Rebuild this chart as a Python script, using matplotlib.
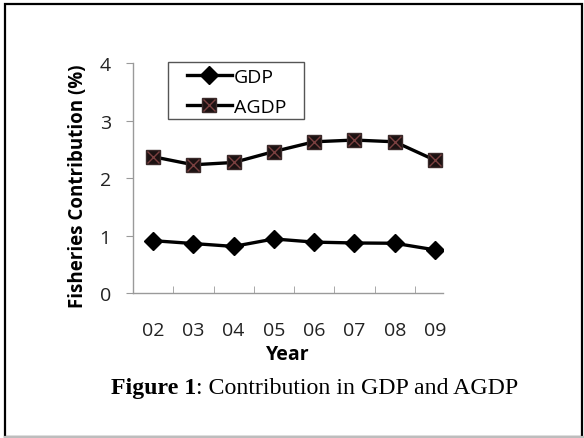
import matplotlib
matplotlib.use("Agg")
import matplotlib.pyplot as plt
from matplotlib.legend_handler import HandlerTuple
from matplotlib.patches import Rectangle
from matplotlib.lines import Line2D

years = ["02", "03", "04", "05", "06", "07", "08", "09"]
gdp = [0.91, 0.86, 0.81, 0.94, 0.885, 0.87, 0.865, 0.75]
agdp = [2.37, 2.23, 2.27, 2.46, 2.63, 2.66, 2.63, 2.31]
y_ticks = [0, 1, 2, 3, 4]

label_font = "Open Sans"
W, H = 584, 439
fig = plt.figure(figsize=(W / 100, H / 100), dpi=100)
ax = fig.add_axes([0.2277, 0.3303, 0.5309, 0.5239])

x = list(range(len(years)))
ax.plot(x, gdp, color="black", lw=2.4, marker="D", ms=9, mfc="black", mec="black", zorder=3)
ax.plot(x, agdp, color="black", lw=2.4, zorder=3)
ax.plot(x, agdp, ls="none", marker="s", ms=10.5, mfc="#1c1212", mec="#3a2a2a", zorder=4)
ax.plot(x, agdp, ls="none", marker="x", ms=8, mew=1.0, color="#7a4040", zorder=5)

ax.set_ylim(0, 4)
ax.set_xlim(-0.5, 7.2)
ax.set_yticks(y_ticks)
ax.set_xticks(x)
ax.set_xticklabels(years)
ax.set_xticks([i + 0.5 for i in range(7)], minor=True)

for s in ("top", "right"):
    ax.spines[s].set_visible(False)
for s in ("left", "bottom"):
    ax.spines[s].set_color("#9a9a9a")
    ax.spines[s].set_linewidth(1.0)

ax.tick_params(axis="y", direction="out", length=5, color="#9a9a9a", labelsize=14, pad=11)
ax.tick_params(axis="x", which="major", length=0, labelsize=14, pad=20)
ax.tick_params(axis="x", which="minor", direction="in", length=5, color="#9a9a9a")
for lab in ax.get_xticklabels() + ax.get_yticklabels():
    lab.set_fontfamily(label_font)
    lab.set_color("#222222")

ax.set_ylabel("Fisheries Contribution (%)", fontfamily=label_font, fontweight="bold",
              fontsize=13.5)
ax.yaxis.set_label_coords(-0.145, 0.47)
ax.set_xlabel("Year", fontfamily=label_font, fontweight="bold", fontsize=14, labelpad=4)

# legend entries (frame drawn separately as a plain box)
h_gdp = Line2D([], [], color="black", lw=2.4, marker="D", ms=9)
h_line = Line2D([], [], color="black", lw=2.4)
h_sq = Line2D([], [], ls="none", marker="s", ms=10.5, mfc="#1c1212", mec="#3a2a2a")
h_x = Line2D([], [], ls="none", marker="x", ms=8, mew=1.0, color="#7a4040")
ax.legend([h_gdp, (h_line, h_sq, h_x)], ["GDP", "AGDP"],
          handler_map={tuple: HandlerTuple(ndivide=1, pad=0)},
          loc="upper left", bbox_to_anchor=(0.174, 0.977), frameon=False,
          handlelength=2.3, handletextpad=0.1, borderpad=0, labelspacing=0.6,
          borderaxespad=0, prop={"family": label_font, "size": 14})
ax.add_patch(Rectangle((0.113, 0.757), 0.439, 0.248, transform=ax.transAxes,
                       fill=False, edgecolor="#555555", lw=1.0, clip_on=False, zorder=6))

cap_y = 1 - 389 / H
t1 = fig.text(111 / W, cap_y, "Figure 1", fontfamily="Liberation Serif", fontweight="bold",
              fontsize=17.2, va="center", ha="left")
fig.canvas.draw()
bb = t1.get_window_extent()
x2 = bb.x1 / fig.bbox.width
fig.text(x2, cap_y, ": Contribution in GDP and AGDP", fontfamily="Liberation Serif",
         fontsize=17.2, va="center", ha="left")

fig.patches.append(Rectangle((4.5 / W, 1 - 437.5 / H), (582 - 4.5) / W, (437.5 - 5) / H,
                             transform=fig.transFigure, fill=False, edgecolor="black", lw=1.6))
fig.lines.append(Line2D([4.5 / W, 583 / W], [1 - 437.5 / H] * 2, transform=fig.transFigure,
                        color="#bdbdbd", lw=1.6))

fig.savefig("out.png", dpi=100)
